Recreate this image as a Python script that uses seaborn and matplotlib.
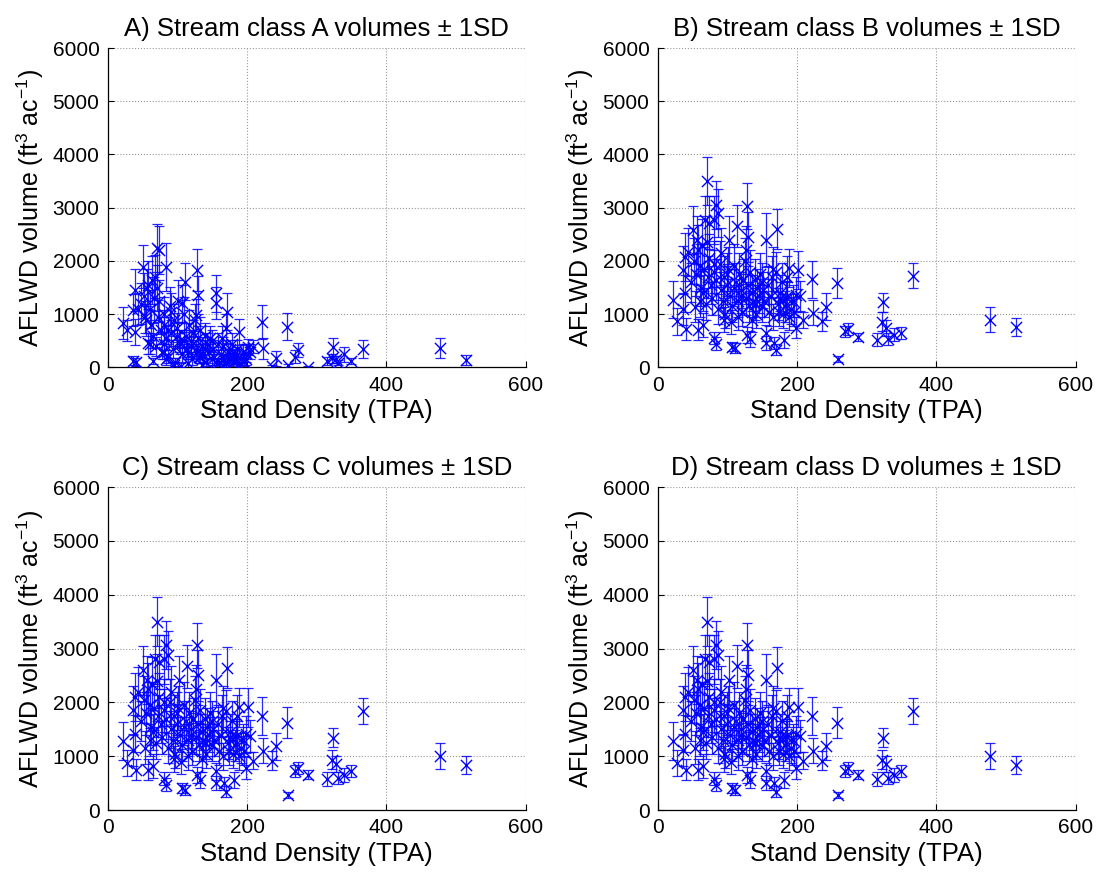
import matplotlib
matplotlib.use("Agg")
import matplotlib.pyplot as plt
import seaborn as sns
import pandas as pd

# Stand density (trees per acre) of each sampled stand
tpa = [514, 477, 366, 349, 339, 330, 327, 323, 322, 314,
       287, 273, 269, 257, 258, 241, 235, 222, 223, 209,
       201, 199, 204, 199, 189, 184, 181, 171, 170, 169,
       167, 156, 155, 155, 128, 130, 127, 128, 132, 113,
       111, 106, 102, 83, 86, 80, 83, 80, 71, 73,
       68, 51, 56, 39, 36, 22, 27, 41, 58, 65,
       53, 39, 44, 36,
       48, 52, 55, 57, 60, 62, 63, 65, 67, 69,
       72, 74, 76, 78, 81, 84, 87, 89, 91, 93,
       95, 97, 99, 101, 104, 107, 109, 112, 115, 117,
       119, 121, 123, 125, 126, 129, 131, 133, 135, 137,
       139, 141, 143, 145, 147, 149, 151, 153, 158, 160,
       162, 164, 166, 172, 174, 176, 178, 180, 183, 186,
       188, 191, 194, 196, 60, 70, 80, 90, 100, 110,
       120, 140, 150, 165, 175, 185, 95, 105, 115, 135]

# AFLWD volume (ft3/ac) and its standard deviation, stream class A
vol_a = [137, 357, 344, 124, 244, 90, 150, 387, 169, 124,
         12, 325, 200, 764, 43, 169, 20, 857, 357, 387,
         387, 263, 300, 150, 669, 137, 250, 1045, 733, 60,
         150, 1391, 1203, 100, 1829, 1359, 983, 300, 200, 350,
         1610, 1203, 500, 1891, 700, 450, 150, 300, 2237, 2205,
         1704, 1891, 1500, 1453, 1077, 827, 701, 105, 451, 120,
         951, 669, 1100, 130,
         1200, 1350, 900, 1550, 1100, 800, 1650, 600, 1300, 400,
         950, 1250, 700, 300, 1000, 550, 200, 1150, 650, 350,
         900, 100, 750, 1250, 450, 250, 1000, 600, 300, 800,
         500, 150, 650, 900, 350, 550, 200, 700, 400, 250,
         600, 100, 450, 300, 550, 150, 350, 200, 450, 100,
         250, 550, 50, 300, 150, 350, 450, 100, 200, 250,
         50, 150, 300, 100, 450, 1500, 800, 1050, 600, 500,
         400, 350, 500, 400, 200, 350, 50, 30, 80, 40]
sd_a = [94, 188, 166, 60, 150, 50, 70, 169, 80, 70,
        20, 130, 120, 257, 30, 140, 30, 313, 190, 120,
        150, 160, 150, 100, 240, 80, 100, 350, 280, 60,
        80, 350, 300, 60, 400, 350, 300, 150, 120, 150,
        350, 350, 200, 450, 250, 200, 100, 150, 450, 450,
        400, 400, 350, 400, 300, 300, 200, 80, 200, 60,
        300, 250, 300, 80,
        380, 420, 300, 450, 350, 280, 450, 230, 400, 180,
        320, 390, 250, 150, 330, 220, 120, 360, 240, 170,
        300, 80, 270, 390, 190, 140, 330, 230, 150, 280,
        200, 100, 240, 300, 170, 220, 120, 250, 180, 140,
        230, 80, 190, 150, 220, 100, 170, 120, 190, 80,
        140, 220, 60, 150, 100, 170, 190, 80, 120, 140,
        60, 100, 150, 80, 190, 430, 280, 340, 230, 200,
        180, 170, 200, 180, 120, 170, 60, 50, 70, 50]

# Stream class B
vol_b = [758, 895, 1720, 645, 613, 532, 750, 1226, 863, 520,
         570, 720, 676, 1583, 157, 1145, 864, 1658, 1032, 895,
         1833, 1364, 1345, 750, 1865, 1332, 520, 2596, 1790, 332,
         458, 2396, 645, 458, 3033, 2458, 2208, 613, 532, 2658,
         364, 394, 2396, 3052, 2896, 2771, 445, 552, 3503, 2721,
         2771, 2583, 2396, 2083, 1833, 1270, 864, 720, 707, 800,
         1145, 1395, 2176, 1100,
         1600, 2000, 1750, 2200, 1900, 1500, 2300, 1400, 1850, 1200,
         1700, 2050, 1550, 1300, 1800, 1650, 1100, 1950, 1450, 1250,
         1700, 1000, 1550, 1850, 1350, 1150, 1900, 1600, 1250, 1750,
         1450, 1050, 1650, 2000, 1300, 1550, 1150, 1800, 1400, 1250,
         1650, 1000, 1500, 1350, 1750, 1150, 1450, 1250, 1550, 1050,
         1350, 1700, 950, 1200, 1050, 1400, 1600, 1000, 1150, 1300,
         950, 1100, 1250, 1050, 1250, 2350, 1950, 2150, 1750, 1500,
         1350, 1200, 1600, 1850, 1300, 1700, 900, 850, 950, 900]
sd_b = [163, 234, 234, 110, 120, 110, 150, 178, 170, 125,
        80, 110, 110, 281, 50, 250, 170, 344, 230, 150,
        360, 330, 280, 200, 360, 300, 150, 380, 380, 100,
        120, 500, 150, 130, 430, 470, 450, 150, 150, 400,
        90, 90, 450, 450, 450, 450, 120, 120, 450, 500,
        450, 450, 450, 450, 450, 350, 250, 200, 200, 230,
        300, 350, 450, 300,
        370, 440, 400, 480, 420, 350, 490, 330, 410, 300,
        390, 450, 360, 310, 400, 380, 280, 430, 340, 300,
        390, 260, 360, 410, 320, 290, 420, 370, 300, 400,
        340, 270, 380, 440, 310, 360, 290, 400, 330, 300,
        380, 260, 350, 320, 400, 290, 340, 300, 360, 270,
        320, 390, 250, 300, 270, 330, 370, 260, 290, 310,
        250, 280, 300, 270, 300, 500, 430, 470, 400, 350,
        320, 300, 370, 410, 310, 390, 240, 230, 250, 240]

# Stream classes C and D (identical totals)
vol_c = [831, 1000, 1844, 730, 655, 593, 855, 1343, 937, 574,
         655, 780, 730, 1625, 280, 1188, 917, 1750, 1105, 917,
         1906, 1405, 1375, 780, 1906, 1375, 560, 2644, 1844, 344,
         500, 2407, 718, 500, 3063, 2500, 2250, 650, 560, 2670,
         375, 405, 2420, 3063, 2876, 2800, 468, 580, 3500, 2750,
         2800, 2594, 2420, 2100, 1850, 1281, 874, 749, 749, 820,
         1160, 1420, 2200, 1120,
         1650, 2050, 1800, 2250, 1950, 1550, 2350, 1450, 1900, 1250,
         1750, 2100, 1600, 1350, 1850, 1700, 1150, 2000, 1500, 1300,
         1750, 1050, 1600, 1900, 1400, 1200, 1950, 1650, 1300, 1800,
         1500, 1100, 1700, 2050, 1350, 1600, 1200, 1850, 1450, 1300,
         1700, 1050, 1550, 1400, 1800, 1200, 1500, 1300, 1600, 1100,
         1400, 1750, 1000, 1250, 1100, 1450, 1650, 1050, 1200, 1350,
         1000, 1150, 1300, 1100, 1300, 2400, 2000, 2200, 1800, 1550,
         1400, 1250, 1650, 1900, 1350, 1750, 950, 900, 1000, 950]
sd_c = [170, 240, 245, 115, 125, 115, 150, 180, 175, 125,
        85, 115, 115, 290, 50, 250, 175, 350, 235, 155,
        370, 340, 290, 210, 370, 310, 150, 380, 390, 100,
        120, 500, 160, 130, 420, 480, 450, 150, 150, 400,
        90, 90, 450, 450, 450, 450, 120, 120, 450, 500,
        450, 450, 450, 450, 450, 350, 250, 200, 200, 230,
        300, 350, 450, 300,
        370, 440, 400, 480, 420, 350, 490, 330, 410, 300,
        390, 450, 360, 310, 400, 380, 280, 430, 340, 300,
        390, 260, 360, 410, 320, 290, 420, 370, 300, 400,
        340, 270, 380, 440, 310, 360, 290, 400, 330, 300,
        380, 260, 350, 320, 400, 290, 340, 300, 360, 270,
        320, 390, 250, 300, 270, 330, 370, 260, 290, 310,
        250, 280, 300, 270, 300, 500, 430, 470, 400, 350,
        320, 300, 370, 410, 310, 390, 240, 230, 250, 240]
vol_d = vol_c
sd_d = sd_c

panel_titles = ["A) Stream class A volumes \u00b1 1SD",
                "B) Stream class B volumes \u00b1 1SD",
                "C) Stream class C volumes \u00b1 1SD",
                "D) Stream class D volumes \u00b1 1SD"]
x_ticks = [0, 200, 400, 600]
y_ticks = [0, 1000, 2000, 3000, 4000, 5000, 6000]

sns.set_style("white")
plt.rcParams["font.family"] = ["Liberation Sans", "DejaVu Sans"]
plt.rcParams["mathtext.fontset"] = "custom"
plt.rcParams["mathtext.rm"] = "Liberation Sans"
plt.rcParams["mathtext.it"] = "Liberation Sans:italic"
plt.rcParams["text.color"] = "black"
plt.rcParams["axes.labelcolor"] = "black"
plt.rcParams["xtick.color"] = "black"
plt.rcParams["ytick.color"] = "black"

fig = plt.figure(figsize=(11, 8.76), dpi=100)
positions = [[0.098, 0.5805, 0.380, 0.3647],
             [0.598, 0.5805, 0.380, 0.3647],
             [0.098, 0.0753, 0.380, 0.3687],
             [0.598, 0.0753, 0.380, 0.3687]]
series = [(vol_a, sd_a), (vol_b, sd_b), (vol_c, sd_c), (vol_d, sd_d)]
blue = (0.0, 0.0, 1.0)

for pos, title, (vol, sd) in zip(positions, panel_titles, series):
    ax = fig.add_axes(pos)
    df = pd.DataFrame({"tpa": tpa, "vol": vol, "sd": sd})
    ax.errorbar(df["tpa"], df["vol"], yerr=df["sd"], fmt="none",
                ecolor=blue, elinewidth=0.9, capsize=3.6, capthick=0.9,
                alpha=0.85, zorder=2)
    sns.scatterplot(data=df, x="tpa", y="vol", ax=ax, marker="x", s=65,
                    color=blue, linewidth=1.0, zorder=3, legend=False)
    ax.set_xlim(0, 600)
    ax.set_ylim(0, 6000)
    ax.set_xticks(x_ticks)
    ax.set_yticks(y_ticks)
    ax.grid(True, linestyle=":", color="0.6", linewidth=0.8)
    ax.set_axisbelow(True)
    for side in ("top", "right"):
        ax.spines[side].set_visible(False)
    for side in ("left", "bottom"):
        ax.spines[side].set_color("black")
        ax.spines[side].set_linewidth(0.9)
    ax.tick_params(direction="in", length=4, width=0.8, labelsize=15,
                   color="black", labelcolor="black", pad=6,
                   left=True, bottom=True)
    ax.set_title(title, fontsize=18.5, pad=9, color="black")
    ax.set_xlabel("Stand Density (TPA)", fontsize=18.5, labelpad=3)
    ax.set_ylabel("AFLWD volume (ft$^{3}$ ac$^{-1}$)", fontsize=18,
                  labelpad=5)

fig.savefig("out.png", dpi=100)
